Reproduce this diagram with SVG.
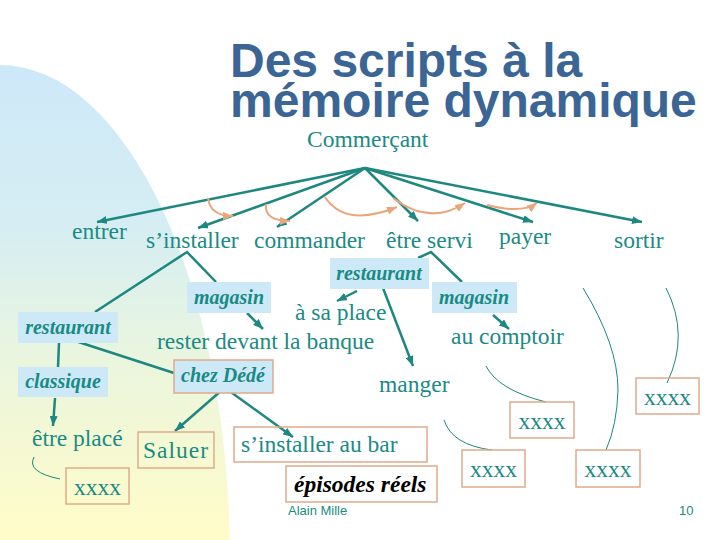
<svg xmlns="http://www.w3.org/2000/svg" width="720" height="540" viewBox="0 0 720 540">
<defs>
<linearGradient id="bg" gradientUnits="userSpaceOnUse" x1="0" y1="65" x2="0" y2="540">
<stop offset="0" stop-color="#cde8f9"/>
<stop offset="0.35" stop-color="#d6eef2"/>
<stop offset="0.65" stop-color="#ecf6dc"/>
<stop offset="1" stop-color="#fffcc8"/>
</linearGradient>
<marker id="ah" viewBox="0 0 10 8" refX="10" refY="4" markerWidth="10" markerHeight="8" markerUnits="userSpaceOnUse" orient="auto">
<path d="M0,0 L10,4 L0,8 z" fill="#1d8780"/>
</marker>
<marker id="oh" viewBox="0 0 10 8" refX="10" refY="4" markerWidth="10" markerHeight="8" markerUnits="userSpaceOnUse" orient="auto">
<path d="M0,0 L10,4 L0,8 z" fill="#eba57a"/>
</marker>
<style>
text{font-family:'Liberation Serif','Times New Roman',serif}
.t{font-size:23.5px;fill:#1a8a84}
.bi{font-size:20px;font-weight:bold;font-style:italic;fill:#1a8a84}
.bx{fill:#cde9f8}
.ob{fill:none;stroke:#e0aa8c;stroke-width:1.5}
.ln{stroke:#1d8780;stroke-width:2.5;fill:none}
.la{stroke:#1d8780;stroke-width:2.5;fill:none;marker-end:url(#ah)}
.or{stroke:#eba57a;stroke-width:2;fill:none;marker-end:url(#oh)}
.th{stroke:#1d8780;stroke-width:1;fill:none}
text.sm{font-family:'Liberation Sans',Arial,sans-serif;font-size:13px;fill:#1a8a84}
text.ti{font-family:'Liberation Sans',Arial,sans-serif;font-size:48px;font-weight:bold;fill:#3b6595}
</style>
</defs>
<rect width="720" height="540" fill="#ffffff"/>
<ellipse cx="0" cy="560" rx="230" ry="495" fill="url(#bg)"/>

<g id="title">
<text class="ti" x="230" y="77">Des scripts à la<tspan x="230" y="117">mémoire dynamique</tspan></text>
</g>

<g id="connectors">
<line class="la" x1="365" y1="168" x2="97" y2="222"/>
<line class="la" x1="365" y1="168" x2="198" y2="228"/>
<line class="la" x1="365" y1="168" x2="277" y2="227"/>
<line class="la" x1="365" y1="168" x2="418" y2="221"/>
<line class="la" x1="365" y1="168" x2="533" y2="222"/>
<line class="la" x1="365" y1="168" x2="642" y2="222"/>
<path class="or" d="M208,198 Q210,216 233,216"/>
<path class="or" d="M266,204 Q264,221 290,221"/>
<path class="or" d="M325,197 Q345,228 397,207"/>
<path class="or" d="M393,198 Q430,226 465,203"/>
<path class="or" d="M487,205 Q522,214 537,203"/>
<polyline class="ln" points="95,312 187,252 216,282"/>
<polyline class="ln" points="418,258 431,252 462,282"/>
<line class="ln" x1="60" y1="336" x2="174" y2="373"/>
<line class="ln" x1="59" y1="343" x2="58" y2="367"/>
<line class="la" x1="55" y1="398" x2="53" y2="426"/>
<line class="la" x1="247" y1="313" x2="263" y2="329"/>
<line class="la" x1="357" y1="291" x2="337" y2="301"/>
<line class="la" x1="383" y1="288" x2="413" y2="366"/>
<line class="la" x1="493" y1="315" x2="509" y2="329"/>
<line class="la" x1="222" y1="390" x2="175" y2="431"/>
<line class="la" x1="228" y1="390" x2="293" y2="437"/>
<path class="th" d="M583,288 Q618,345 618,390 Q617,425 606,450"/>
<path class="th" d="M666,288 Q690,335 667,383"/>
<path class="th" d="M486,366 Q498,390 546,402"/>
<path class="th" d="M444,420 Q452,445 492,450"/>
<path class="th" d="M34,457 Q26,472 60,479"/>
</g>

<g id="commercant"><text class="t" x="307" y="147">Commerçant</text></g>
<g id="entrer"><text class="t" x="72" y="239">entrer</text></g>
<g id="sinstaller"><text class="t" x="146" y="248">s’installer</text></g>
<g id="commander"><text class="t" x="254" y="248">commander</text></g>
<g id="etre-servi"><text class="t" x="386" y="248">être servi</text></g>
<g id="payer"><text class="t" x="499" y="244">payer</text></g>
<g id="sortir"><text class="t" x="614" y="248">sortir</text></g>

<g id="restaurant-1"><rect class="bx" x="18" y="312" width="100" height="31"/><text class="bi" x="68" y="334" text-anchor="middle">restaurant</text></g>
<g id="magasin-1"><rect class="bx" x="187" y="282" width="84" height="31"/><text class="bi" x="229" y="304" text-anchor="middle">magasin</text></g>
<g id="classique"><rect class="bx" x="18" y="367" width="90" height="30"/><text class="bi" x="63" y="388" text-anchor="middle">classique</text></g>
<g id="chez-dede"><rect class="bx" x="174" y="360" width="99" height="33"/><rect class="ob" x="174" y="360" width="99" height="33"/><text class="bi" x="223" y="382" text-anchor="middle">chez Dédé</text></g>
<g id="restaurant-2"><rect class="bx" x="330" y="258" width="99" height="31"/><text class="bi" x="379" y="280" text-anchor="middle">restaurant</text></g>
<g id="magasin-2"><rect class="bx" x="432" y="282" width="85" height="31"/><text class="bi" x="474" y="304" text-anchor="middle">magasin</text></g>

<g id="a-sa-place"><text class="t" x="295" y="320">à sa place</text></g>
<g id="rester"><text class="t" x="157" y="349">rester devant la banque</text></g>
<g id="au-comptoir"><text class="t" x="451" y="344">au comptoir</text></g>
<g id="manger"><text class="t" x="379" y="392">manger</text></g>
<g id="etre-place"><text class="t" x="32" y="446">être placé</text></g>

<g id="xxxx-1"><rect class="ob" x="66" y="468" width="63" height="36"/><text class="t" x="97.5" y="495" text-anchor="middle">xxxx</text></g>
<g id="saluer"><rect class="ob" x="138" y="432" width="76" height="36"/><text class="t" x="176" y="458" text-anchor="middle" letter-spacing="1">Saluer</text></g>
<g id="installer-bar"><rect class="ob" x="234" y="427" width="193" height="35"/><text class="t" x="241" y="452">s’installer au bar</text></g>
<g id="episodes"><rect x="286" y="466" width="151" height="36" fill="#ffffff" stroke="#e0aa8c" stroke-width="1.5"/><text x="294" y="492" font-size="23.5" font-weight="bold" font-style="italic" fill="#000000">épisodes réels</text></g>
<g id="xxxx-2"><rect class="ob" x="510" y="402" width="64" height="36"/><text class="t" x="542" y="429" text-anchor="middle">xxxx</text></g>
<g id="xxxx-3"><rect class="ob" x="636" y="378" width="63" height="36"/><text class="t" x="667.5" y="405" text-anchor="middle">xxxx</text></g>
<g id="xxxx-4"><rect class="ob" x="462" y="450" width="63" height="37"/><text class="t" x="493.5" y="477" text-anchor="middle">xxxx</text></g>
<g id="xxxx-5"><rect class="ob" x="576" y="450" width="64" height="37"/><text class="t" x="608" y="477" text-anchor="middle">xxxx</text></g>

<g id="footer">
<text class="sm" x="288" y="515">Alain Mille</text>
<text class="sm" x="679" y="515">10</text>
</g>
</svg>
